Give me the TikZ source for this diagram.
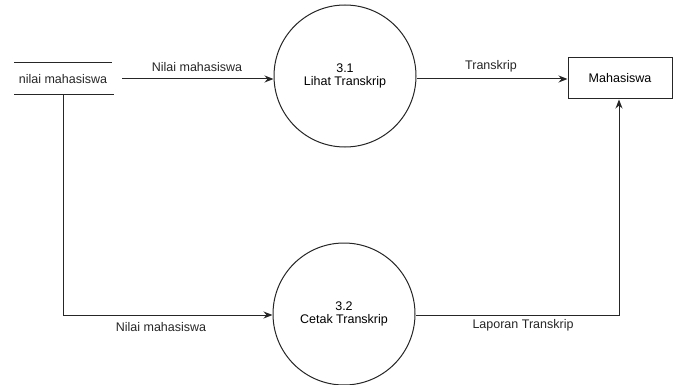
\documentclass[tikz,border=0pt]{standalone}
\usepackage{fontspec}
\setmainfont{Liberation Sans}
\usetikzlibrary{arrows.meta,positioning}
\begin{document}
\begin{tikzpicture}[x=1pt,y=-1pt,
  font=\fontsize{12.5}{14}\selectfont,
  line width=1pt,
  flow/.style={draw=black!85,-{Stealth[length=9pt,width=7pt]}},
  process/.style={draw=black!85,circle,minimum size=142pt,inner sep=0pt,align=center},
  entity/.style={draw=black!85,rectangle,minimum width=104pt,minimum height=41pt,inner sep=0pt},
  lbl/.style={inner sep=1pt,text=black!85}]
\useasboundingbox (0,0) rectangle (677,385);

% data store
\node[lbl] (ds) at (63,79) {nilai mahasiswa};
\draw[black!85] (14,63) -- (112,63);
\draw[black!85] (14,95) -- (114,95);
\coordinate (dsr) at (122,79);
\coordinate (dsb) at (63,95);

% processes
\node[process] (p1) at (345,76) {3.1\\[-1pt]Lihat Transkrip};
\node[process] (p2) at (344,314) {3.2\\[-1pt]Cetak Transkrip};

% external entity
\node[entity] (mhs) at (620,78.5) {Mahasiswa};

% flows
\draw[flow] (dsr) -- (dsr -| p1.west) coordinate (p1in);
\node[lbl] (l1) at (197,67) {Nilai mahasiswa};

\coordinate (corner1) at (63,315);
\draw[flow] (dsb) -- (corner1) -- (corner1 -| p2.west);
\node[lbl] (l2) at (161,327) {Nilai mahasiswa};

\draw[flow] (p1.east |- dsr) -- (mhs.west |- dsr);
\node[lbl] (l3) at (491,66) {Transkrip};

\coordinate (corner2) at (619,315);
\draw[flow] (p2.east |- corner2) -- (corner2) -- (corner2 |- mhs.south);
\node[lbl] (l4) at (523,325) {Laporan Transkrip};
\end{tikzpicture}
\end{document}
